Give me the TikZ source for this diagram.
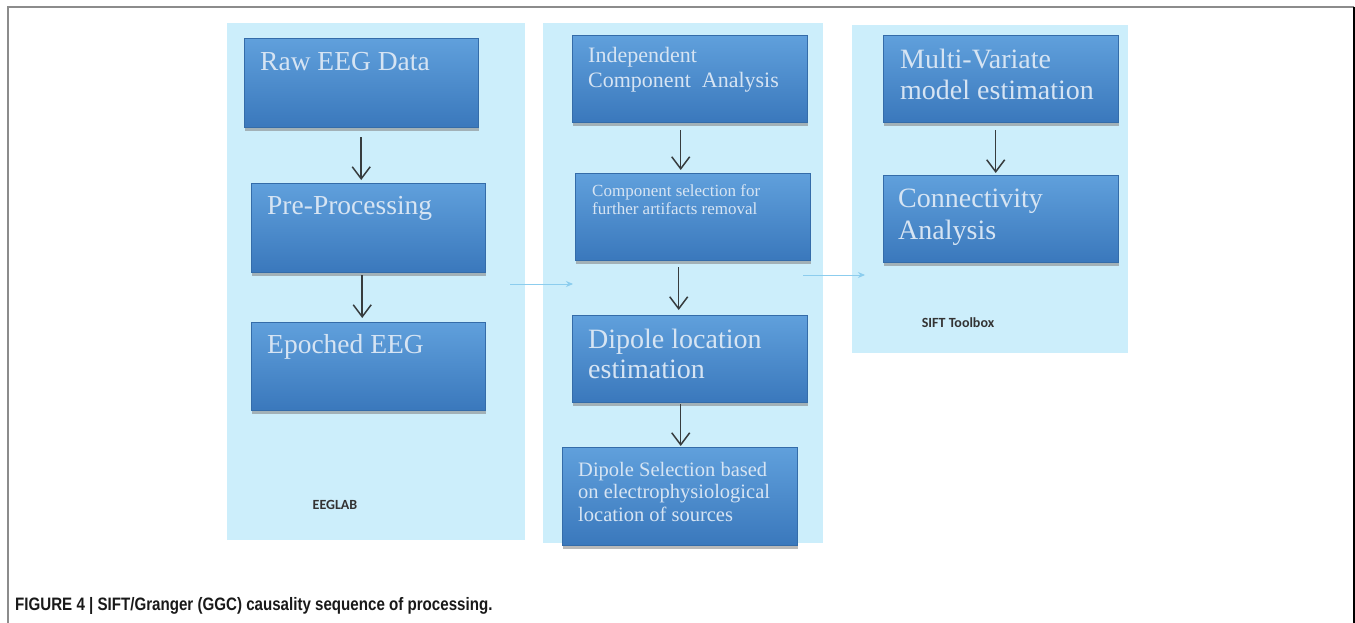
\documentclass[tikz,border=0pt]{standalone}
\usepackage{fontspec}
\setmainfont{Liberation Serif}
\newfontfamily\tagfont{Carlito}
\newfontfamily\capfont{Liberation Sans}
\usepackage{tikz}
\usetikzlibrary{shadows,positioning,arrows.meta}

\definecolor{panelblue}{RGB}{204,238,251}
\definecolor{boxtop}{RGB}{96,160,220}
\definecolor{boxbot}{RGB}{58,120,188}
\definecolor{boxtxt}{RGB}{214,228,243}
\definecolor{flowarr}{RGB}{55,60,62}
\definecolor{faintarr}{RGB}{140,205,238}

\begin{document}
\begin{tikzpicture}[x=1pt,y=-1pt,
  panel/.style={fill=panelblue, draw=none, anchor=north west, inner sep=0pt},
  blk/.style={anchor=north west, inner sep=0pt, top color=boxtop, bottom color=boxbot,
    draw=boxbot!90!black, line width=0.4pt,
    drop shadow={shadow xshift=1pt, shadow yshift=-3.5pt, opacity=0.55}},
  txt/.style={anchor=north west, inner sep=0pt, text=boxtxt, align=left},
  flow/.style={draw=flowarr, line width=1.5pt, -{Straight Barb[length=12pt,width=18pt]}},
  faint/.style={draw=faintarr, line width=0.9pt, -{Stealth[length=7pt,width=6pt]}},
  tag/.style={inner sep=0pt, text=black!80, font=\tagfont\bfseries\fontsize{14}{16}\selectfont}]

\useasboundingbox (0,0) rectangle (1355,623);

% page frame
\draw [color=gray!90][line width=1.2pt] (8,623) -- (8,7) -- (1354,7);
\draw [color=black][line width=1.2pt] (1354,7) -- (1354,623);

% the three stages
\node [panel, minimum width=298, minimum height=517] (eeglab) at (227,23) {};
\node [panel, minimum width=280, minimum height=520] (icastage) at (543,23) {};
\node [panel, minimum width=276, minimum height=328] (sift) at (852,25) {};

\node [tag] (eeglab-t) at (335,505) {EEGLAB};
\node [tag] (sift-t) at (958,323) {SIFT Toolbox};

% EEGLAB column
\node [blk, minimum width=234, minimum height=89,
  label={[txt, font=\fontsize{27.5}{30}\selectfont, xshift=16pt, yshift=-14pt]north west:Raw EEG Data}]
  (raw) at (244,38) {};
\node [blk, minimum width=234, minimum height=89,
  label={[txt, font=\fontsize{27.5}{30}\selectfont, xshift=16pt, yshift=-13pt]north west:Pre-Processing}]
  (pre) at (251,183) {};
\node [blk, minimum width=234, minimum height=88,
  label={[txt, font=\fontsize{27.5}{30}\selectfont, xshift=16pt, yshift=-12pt]north west:Epoched EEG}]
  (epo) at (251,322) {};

% ICA column
\node [blk, minimum width=235, minimum height=87,
  label={[txt, font=\fontsize{22}{25}\selectfont, xshift=16pt, yshift=-12pt]north west:Independent\\Component\ \ Analysis}]
  (ica) at (572,35) {};
\node [blk, minimum width=235, minimum height=87,
  label={[txt, font=\fontsize{17}{18}\selectfont, xshift=17pt, yshift=-11pt]north west:Component selection for\\further artifacts removal}]
  (csel) at (575,173) {};
\node [blk, minimum width=235, minimum height=87,
  label={[txt, font=\fontsize{28}{30}\selectfont, xshift=16pt, yshift=-14pt]north west:Dipole location\\estimation}]
  (dip) at (572,315) {};
\node [blk, minimum width=235, minimum height=98,
  label={[txt, font=\fontsize{20.5}{22.5}\selectfont, xshift=16pt, yshift=-15pt]north west:Dipole Selection based\\on electrophysiological\\location of sources}]
  (dsel) at (562,447) {};

% SIFT column
\node [blk, minimum width=235, minimum height=87,
  label={[txt, font=\fontsize{28}{31}\selectfont, xshift=17pt, yshift=-14pt]north west:Multi-Variate\\model estimation}]
  (mvar) at (883,35) {};
\node [blk, minimum width=235, minimum height=87,
  label={[txt, font=\fontsize{28}{32}\selectfont, xshift=15pt, yshift=-14pt]north west:Connectivity\\Analysis}]
  (conn) at (883,175) {};

% arrows inside the stages
\draw [flow, shorten <=10pt, shorten >=3pt] (raw.south) -- (raw.south |- pre.north);
\draw [flow, shorten <=3pt, shorten >=4pt] ([xshift=-6pt]pre.south) -- ([xshift=-6pt]pre.south |- epo.north);
\draw [flow, shorten <=8pt, shorten >=3pt] ([xshift=-9pt]ica.south) -- ([xshift=-9pt]ica.south |- csel.north);
\draw [flow, shorten <=7pt, shorten >=5pt] ([xshift=-14pt]csel.south) -- ([xshift=-14pt]csel.south |- dip.north);
\draw [flow, shorten <=2pt, shorten >=1pt] ([xshift=-9pt]dip.south) -- ([xshift=-9pt]dip.south |- dsel.north);
\draw [flow, shorten <=8pt, shorten >=2pt] ([xshift=-5pt]mvar.south) -- ([xshift=-5pt]mvar.south |- conn.north);

% hand-over between stages
\coordinate (h1) at (510,284);
\coordinate (h2) at (573,284);
\coordinate (h3) at (803,275);
\coordinate (h4) at (865,275);
\draw [faint] (h1) -- (h2);
\draw [faint] (h3) -- (h4);

\node [anchor=base west, inner sep=0pt, text=black!90] (cap) at (15,610)
  {\capfont\bfseries\fontsize{18}{20}\selectfont\scalebox{0.84}[1]{FIGURE 4 | SIFT/Granger (GGC) causality sequence of processing.}};

\end{tikzpicture}
\end{document}
